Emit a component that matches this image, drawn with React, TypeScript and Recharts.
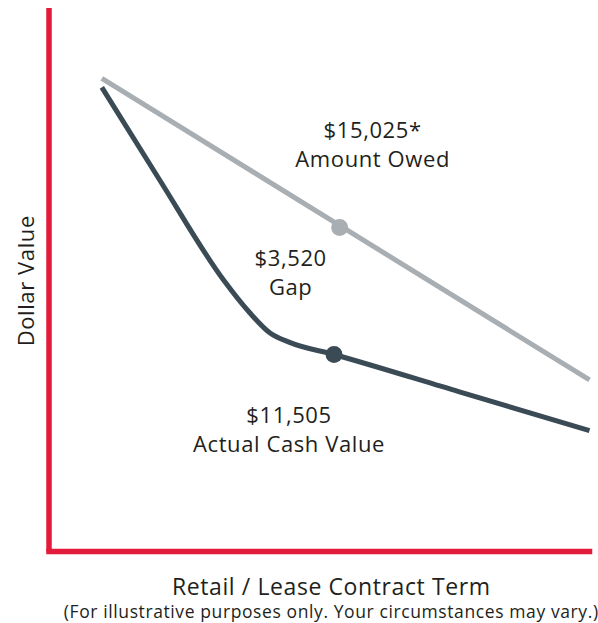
import React from "react"
import { Line, LineChart, ReferenceDot, XAxis, YAxis } from "recharts"

// contract term (months) and dollar values
const owedTerm = [0, 60]
const owedValue = [19150, 10800]

const acvTerm = [0, 7, 15, 18.2, 20.7, 23.1, 28.57, 44, 60]
const acvValue = [18900, 16380, 13560, 12660, 12100, 11840, 11505, 10470, 9400]

const owedMarker = { term: 29.26, value: 15025 }
const acvMarker = { term: 28.57, value: 11505 }

const owedLabel = ["$15,025*", "Amount Owed"]
const gapLabel = ["$3,520", "Gap"]
const acvLabel = ["$11,505", "Actual Cash Value"]

const xTitle = "Retail / Lease Contract Term"
const xSubtitle = "(For illustrative purposes only. Your circumstances may vary.)"
const yTitle = "Dollar Value"

const RED = "#e31b3b"
const GRAY = "#a8aeb2"
const DARK = "#3b4b56"
const TEXT = "#231f20"
const FONT = "'Open Sans', sans-serif"

const owedData = owedTerm.map((x, i) => ({ x, y: owedValue[i] }))
const acvData = acvTerm.map((x, i) => ({ x, y: acvValue[i] }))

function TwoLines({ x, y, lines }: { x: number; y: number; lines: string[] }) {
  return (
    <>
      {lines.map((t, i) => (
        <text
          key={t}
          x={x}
          y={y + i * 29}
          textAnchor="middle"
          dominantBaseline="central"
          fontSize={22}
          letterSpacing={0.6}
          fontFamily={FONT}
          fill={TEXT}
        >
          {t}
        </text>
      ))}
    </>
  )
}

function owedDot(props: any) {
  const { cx, cy } = props
  return (
    <g>
      <circle cx={cx} cy={cy} r={8.5} fill={GRAY} />
      <TwoLines x={cx + 33} y={cy - 98} lines={owedLabel} />
      <TwoLines x={cx - 49} y={cy + 30} lines={gapLabel} />
    </g>
  )
}

function acvDot(props: any) {
  const { cx, cy } = props
  return (
    <g>
      <circle cx={cx} cy={cy} r={8.5} fill={DARK} />
      <TwoLines x={cx - 45} y={cy + 59} lines={acvLabel} />
    </g>
  )
}

function XTitle(props: any) {
  const { x, y, width } = props.viewBox
  const cx = x + width / 2 + 12
  return (
    <g fontFamily={FONT} fill={TEXT}>
      <text x={cx} y={y + 34} textAnchor="middle" dominantBaseline="central" fontSize={23} letterSpacing={0.6}>
        {xTitle}
      </text>
      <text x={cx} y={y + 59} textAnchor="middle" dominantBaseline="central" fontSize={17.5} letterSpacing={0.6}>
        {xSubtitle}
      </text>
    </g>
  )
}

function YTitle(props: any) {
  const { y, height } = props.viewBox
  const cy = y + height / 2 + 1
  return (
    <text
      x={25}
      y={cy}
      transform={`rotate(-90, 25, ${cy})`}
      textAnchor="middle"
      dominantBaseline="central"
      fontSize={22}
      letterSpacing={0.6}
      fontFamily={FONT}
      fill={TEXT}
    >
      {yTitle}
    </text>
  )
}

export default function App() {
  return (
    <div style={{ position: "absolute", left: 0, top: 0, background: "#fff" }}>
      <LineChart
        width={598}
        height={623}
        margin={{ top: 8, right: 8.5, bottom: 70.5, left: 48 }}
      >
        <XAxis
          type="number"
          dataKey="x"
          domain={[-6.5, 60]}
          height={1}
          tick={false}
          tickLine={false}
          axisLine={{ stroke: RED, strokeWidth: 5.5, strokeLinecap: "square" }}
          label={<XTitle />}
        />
        <YAxis
          type="number"
          dataKey="y"
          domain={[6050, 21100]}
          width={1}
          tick={false}
          tickLine={false}
          axisLine={{ stroke: RED, strokeWidth: 5.5 }}
          label={<YTitle />}
        />
        <Line
          data={owedData}
          dataKey="y"
          type="linear"
          stroke={GRAY}
          strokeWidth={5}
          dot={false}
          activeDot={false}
          isAnimationActive={false}
        />
        <Line
          data={acvData}
          dataKey="y"
          type="monotone"
          stroke={DARK}
          strokeWidth={5}
          dot={false}
          activeDot={false}
          isAnimationActive={false}
        />
        <ReferenceDot x={owedMarker.term} y={owedMarker.value} r={8.5} shape={owedDot} />
        <ReferenceDot x={acvMarker.term} y={acvMarker.value} r={8.5} shape={acvDot} />
      </LineChart>
    </div>
  )
}
